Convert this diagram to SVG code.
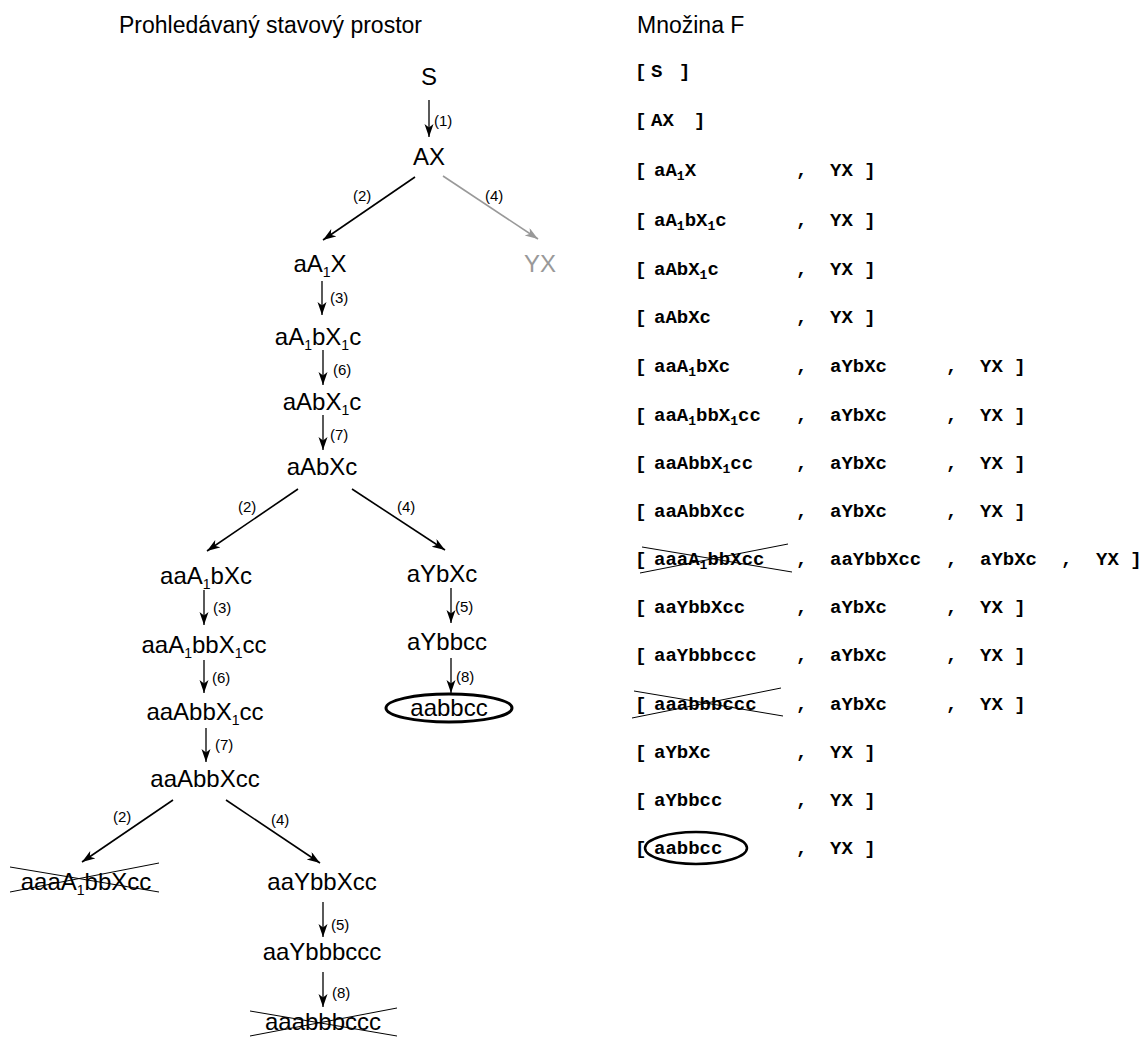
<svg xmlns="http://www.w3.org/2000/svg" width="1141" height="1037" viewBox="0 0 1141 1037">
<defs>
<style>
.n{font-family:"Liberation Sans",Arial,sans-serif;font-size:24px;fill:#000;text-anchor:middle}
.g{fill:#999}
.s{font-size:14px}
.lbl{font-family:"Liberation Sans",Arial,sans-serif;font-size:15px;fill:#000}
.t{font-family:"Liberation Sans",Arial,sans-serif;font-size:23px;fill:#000}
.f{font-family:"Courier New","Liberation Mono",monospace;font-weight:bold;font-size:19px;fill:#000}
.fs{font-size:13px}
.e{stroke:#000;stroke-width:1.6;fill:none}
.ev{stroke:#000;stroke-width:1.3;fill:none}
.eg{stroke:#999;stroke-width:1.6;fill:none}
.x{stroke:#000;stroke-width:1;fill:none}
.ell{stroke:#000;stroke-width:3;fill:none}
.ellf{stroke:#000;stroke-width:2.5;fill:none}
</style>
<marker id="arr" markerUnits="userSpaceOnUse" markerWidth="14" markerHeight="10" refX="13" refY="4.5" orient="auto">
<path d="M0,0 L13,4.5 L0,9 L3.5,4.5 z" fill="#000"/>
</marker>
<marker id="arrg" markerUnits="userSpaceOnUse" markerWidth="14" markerHeight="10" refX="13" refY="4.5" orient="auto">
<path d="M0,0 L13,4.5 L0,9 L3.5,4.5 z" fill="#999"/>
</marker>
</defs>
<rect width="1141" height="1037" fill="#fff"/>

<text class="t" x="119" y="33">Prohledávaný stavový prostor</text>
<text class="t" x="637" y="33">Množina F</text>

<g id="connectors">
<line class="ev" x1="429" y1="100" x2="429" y2="137" marker-end="url(#arr)"/>
<line class="e" x1="415" y1="177" x2="323" y2="240" marker-end="url(#arr)"/>
<line class="eg" x1="443" y1="176" x2="538" y2="239" marker-end="url(#arrg)"/>
<line class="ev" x1="322" y1="281" x2="322" y2="315" marker-end="url(#arr)"/>
<line class="ev" x1="323" y1="350" x2="323" y2="385" marker-end="url(#arr)"/>
<line class="ev" x1="323" y1="415" x2="323" y2="450" marker-end="url(#arr)"/>
<line class="e" x1="298" y1="489" x2="207" y2="551" marker-end="url(#arr)"/>
<line class="e" x1="352" y1="489" x2="445" y2="550" marker-end="url(#arr)"/>
<line class="ev" x1="204" y1="590" x2="204" y2="625" marker-end="url(#arr)"/>
<line class="ev" x1="204" y1="660" x2="204" y2="693" marker-end="url(#arr)"/>
<line class="ev" x1="206" y1="728" x2="206" y2="762" marker-end="url(#arr)"/>
<line class="e" x1="173" y1="800" x2="82" y2="862" marker-end="url(#arr)"/>
<line class="e" x1="226" y1="800" x2="320" y2="863" marker-end="url(#arr)"/>
<line class="ev" x1="323" y1="902" x2="323" y2="937" marker-end="url(#arr)"/>
<line class="ev" x1="323" y1="972" x2="323" y2="1007" marker-end="url(#arr)"/>
<line class="ev" x1="451" y1="588" x2="451" y2="623" marker-end="url(#arr)"/>
<line class="ev" x1="451" y1="658" x2="451" y2="693" marker-end="url(#arr)"/>
<text class="lbl" x="434" y="126">(1)</text>
<text class="lbl" x="353" y="201">(2)</text>
<text class="lbl" x="485" y="201">(4)</text>
<text class="lbl" x="330" y="303">(3)</text>
<text class="lbl" x="333" y="375">(6)</text>
<text class="lbl" x="330" y="440">(7)</text>
<text class="lbl" x="238" y="512">(2)</text>
<text class="lbl" x="397" y="512">(4)</text>
<text class="lbl" x="213" y="613">(3)</text>
<text class="lbl" x="212" y="683">(6)</text>
<text class="lbl" x="215" y="750">(7)</text>
<text class="lbl" x="113" y="822">(2)</text>
<text class="lbl" x="271" y="825">(4)</text>
<text class="lbl" x="331" y="930">(5)</text>
<text class="lbl" x="332" y="998">(8)</text>
<text class="lbl" x="455" y="612">(5)</text>
<text class="lbl" x="456" y="682">(8)</text>
</g>

<g id="node-S"><text class="n" x="429" y="85">S</text></g>
<g id="node-AX"><text class="n" x="429" y="165">AX</text></g>
<g id="node-aA1X"><text class="n" x="320" y="272">aA<tspan class="s" dy="5">1</tspan><tspan dy="-5">X</tspan></text></g>
<g id="node-YX"><text class="n g" x="540" y="272">YX</text></g>
<g id="node-aA1bX1c"><text class="n" x="318" y="345">aA<tspan class="s" dy="5">1</tspan><tspan dy="-5">bX</tspan><tspan class="s" dy="5">1</tspan><tspan dy="-5">c</tspan></text></g>
<g id="node-aAbX1c"><text class="n" x="322" y="410">aAbX<tspan class="s" dy="5">1</tspan><tspan dy="-5">c</tspan></text></g>
<g id="node-aAbXc"><text class="n" x="322" y="475">aAbXc</text></g>
<g id="node-aaA1bXc"><text class="n" x="206" y="584">aaA<tspan class="s" dy="5">1</tspan><tspan dy="-5">bXc</tspan></text></g>
<g id="node-aYbXc"><text class="n" x="442" y="582">aYbXc</text></g>
<g id="node-aaA1bbX1cc"><text class="n" x="204" y="653">aaA<tspan class="s" dy="5">1</tspan><tspan dy="-5">bbX</tspan><tspan class="s" dy="5">1</tspan><tspan dy="-5">cc</tspan></text></g>
<g id="node-aYbbcc"><text class="n" x="447" y="650">aYbbcc</text></g>
<g id="node-aabbcc"><ellipse class="ell" cx="449" cy="708" rx="63" ry="14"/><text class="n" x="449" y="716">aabbcc</text></g>
<g id="node-aaAbbX1cc"><text class="n" x="205" y="720">aaAbbX<tspan class="s" dy="5">1</tspan><tspan dy="-5">cc</tspan></text></g>
<g id="node-aaAbbXcc"><text class="n" x="205" y="787">aaAbbXcc</text></g>
<g id="node-aaaA1bbXcc"><text class="n" x="86" y="890">aaaA<tspan class="s" dy="5">1</tspan><tspan dy="-5">bbXcc</tspan></text>
<line class="x" x1="10" y1="867" x2="159" y2="892"/><line class="x" x1="10" y1="892" x2="159" y2="863"/></g>
<g id="node-aaYbbXcc"><text class="n" x="322" y="890">aaYbbXcc</text></g>
<g id="node-aaYbbbccc"><text class="n" x="322" y="960">aaYbbbccc</text></g>
<g id="node-aaabbbccc"><text class="n" x="323" y="1030">aaabbbccc</text>
<line class="x" x1="250" y1="1011" x2="397" y2="1036"/><line class="x" x1="250" y1="1036" x2="397" y2="1008"/></g>

<g id="F-list">
<g id="f1"><text class="f" x="635" y="77">[</text><text class="f" x="651" y="77">S</text><text class="f" x="679" y="77">]</text></g>
<g id="f2"><text class="f" x="635" y="126">[</text><text class="f" x="651" y="126">AX</text><text class="f" x="694" y="126">]</text></g>
<g id="f3"><text class="f" x="635" y="176">[</text><text class="f" x="654" y="176">aA<tspan class="fs" dy="4">1</tspan><tspan dy="-4">X</tspan></text><text class="f" x="796" y="176">,</text><text class="f" x="830" y="176">YX ]</text></g>
<g id="f4"><text class="f" x="635" y="226">[</text><text class="f" x="654" y="226">aA<tspan class="fs" dy="4">1</tspan><tspan dy="-4">bX</tspan><tspan class="fs" dy="4">1</tspan><tspan dy="-4">c</tspan></text><text class="f" x="796" y="226">,</text><text class="f" x="830" y="226">YX ]</text></g>
<g id="f5"><text class="f" x="635" y="275">[</text><text class="f" x="654" y="275">aAbX<tspan class="fs" dy="4">1</tspan><tspan dy="-4">c</tspan></text><text class="f" x="796" y="275">,</text><text class="f" x="830" y="275">YX ]</text></g>
<g id="f6"><text class="f" x="635" y="323">[</text><text class="f" x="654" y="323">aAbXc</text><text class="f" x="796" y="323">,</text><text class="f" x="830" y="323">YX ]</text></g>
<g id="f7"><text class="f" x="635" y="372">[</text><text class="f" x="654" y="372">aaA<tspan class="fs" dy="4">1</tspan><tspan dy="-4">bXc</tspan></text><text class="f" x="796" y="372">,</text><text class="f" x="830" y="372">aYbXc</text><text class="f" x="946" y="372">,</text><text class="f" x="980" y="372">YX ]</text></g>
<g id="f8"><text class="f" x="635" y="421">[</text><text class="f" x="654" y="421">aaA<tspan class="fs" dy="4">1</tspan><tspan dy="-4">bbX</tspan><tspan class="fs" dy="4">1</tspan><tspan dy="-4">cc</tspan></text><text class="f" x="796" y="421">,</text><text class="f" x="830" y="421">aYbXc</text><text class="f" x="946" y="421">,</text><text class="f" x="980" y="421">YX ]</text></g>
<g id="f9"><text class="f" x="635" y="469">[</text><text class="f" x="654" y="469">aaAbbX<tspan class="fs" dy="4">1</tspan><tspan dy="-4">cc</tspan></text><text class="f" x="796" y="469">,</text><text class="f" x="830" y="469">aYbXc</text><text class="f" x="946" y="469">,</text><text class="f" x="980" y="469">YX ]</text></g>
<g id="f10"><text class="f" x="635" y="517">[</text><text class="f" x="654" y="517">aaAbbXcc</text><text class="f" x="796" y="517">,</text><text class="f" x="830" y="517">aYbXc</text><text class="f" x="946" y="517">,</text><text class="f" x="980" y="517">YX ]</text></g>
<g id="f11"><text class="f" x="635" y="565">[</text><text class="f" x="654" y="565">aaaA<tspan class="fs" dy="4">1</tspan><tspan dy="-4">bbXcc</tspan></text>
<line class="x" x1="642" y1="547" x2="792" y2="572"/><line class="x" x1="640" y1="573" x2="788" y2="544"/>
<text class="f" x="796" y="565">,</text><text class="f" x="830" y="565">aaYbbXcc</text><text class="f" x="946" y="565">,</text><text class="f" x="980" y="565">aYbXc</text><text class="f" x="1061" y="565">,</text><text class="f" x="1096" y="565">YX ]</text></g>
<g id="f12"><text class="f" x="635" y="613">[</text><text class="f" x="654" y="613">aaYbbXcc</text><text class="f" x="796" y="613">,</text><text class="f" x="830" y="613">aYbXc</text><text class="f" x="946" y="613">,</text><text class="f" x="980" y="613">YX ]</text></g>
<g id="f13"><text class="f" x="635" y="661">[</text><text class="f" x="654" y="661">aaYbbbccc</text><text class="f" x="796" y="661">,</text><text class="f" x="830" y="661">aYbXc</text><text class="f" x="946" y="661">,</text><text class="f" x="980" y="661">YX ]</text></g>
<g id="f14"><text class="f" x="635" y="710">[</text><text class="f" x="654" y="710">aaabbbccc</text>
<line class="x" x1="634" y1="691" x2="783" y2="716"/><line class="x" x1="632" y1="718" x2="781" y2="688"/>
<text class="f" x="796" y="710">,</text><text class="f" x="830" y="710">aYbXc</text><text class="f" x="946" y="710">,</text><text class="f" x="980" y="710">YX ]</text></g>
<g id="f15"><text class="f" x="635" y="758">[</text><text class="f" x="654" y="758">aYbXc</text><text class="f" x="796" y="758">,</text><text class="f" x="830" y="758">YX ]</text></g>
<g id="f16"><text class="f" x="635" y="806">[</text><text class="f" x="654" y="806">aYbbcc</text><text class="f" x="796" y="806">,</text><text class="f" x="830" y="806">YX ]</text></g>
<g id="f17"><text class="f" x="635" y="854">[</text><ellipse class="ellf" cx="696" cy="848" rx="51" ry="16" fill="#fff"/><text class="f" x="654" y="854">aabbcc</text><text class="f" x="796" y="854">,</text><text class="f" x="830" y="854">YX ]</text></g>
</g>
</svg>
